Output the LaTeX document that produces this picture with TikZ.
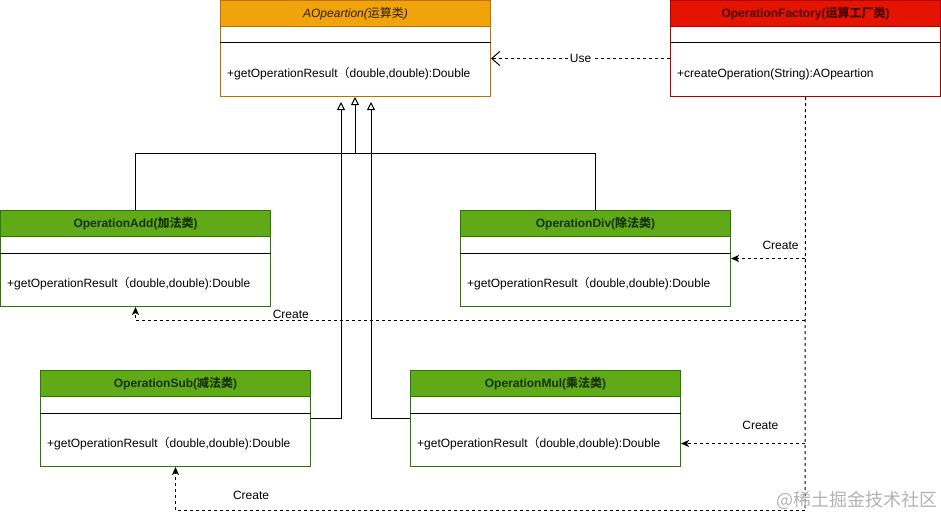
\documentclass[tikz,border=0pt]{standalone}
\usepackage{fontspec}
\setmainfont{Liberation Sans}
\newfontfamily\cjk{Noto Sans CJK SC}
\usetikzlibrary{arrows.meta, calc, positioning}

\definecolor{absFill}{HTML}{F0A30A}
\definecolor{absLine}{HTML}{BD7000}
\definecolor{absText}{HTML}{2E1F00}
\definecolor{facFill}{HTML}{E51400}
\definecolor{facLine}{HTML}{B20000}
\definecolor{facText}{HTML}{4A0000}
\definecolor{subFill}{HTML}{60A917}
\definecolor{subLine}{HTML}{2D7600}
\definecolor{subText}{HTML}{17330A}

\tikzset{
  classbox/.style={draw=#1, line width=1pt, minimum width=270pt, minimum height=96pt,
    anchor=north west, inner sep=0pt},
  classhead/.style={line width=1pt, minimum width=270pt, minimum height=26pt,
    anchor=north west, inner sep=0pt},
  method/.style={anchor=west, inner sep=0pt},
  line/.style={line width=1pt},
  inherit/.style={line width=1pt, -{Triangle[open, length=8pt, width=8pt]}},
  dep/.style={line width=1pt, dash pattern=on 3pt off 3pt},
  use/.style={dep, -{Straight Barb[length=8pt, width=14pt]}},
  create/.style={dep, -{Stealth[length=8pt, width=7pt, inset=2pt]}},
  lbl/.style={fill=white, inner sep=1pt}
}

% class box: name, position, fill, border, text colour, header, method
\newcommand{\umlclass}[8]{
  \node[classbox=#4] (#1) at #2 {};
  \node[classhead, draw=#4, fill=#3, text=#5, font={\fontsize{12}{14}\selectfont#8}] (#1h) at (#1.north west) {#6};
  \draw[line] ([yshift=-43pt]#1.north west) -- ([yshift=-43pt]#1.north east);
  \node[method] (#1m) at ([xshift=7pt, yshift=-74pt]#1.north west) {#7};
}

\begin{document}
\begin{tikzpicture}[x=1pt, y=-1pt, every node/.style={font=\fontsize{12}{14}\selectfont}]
  \useasboundingbox (0,0) rectangle (941,519);

  \umlclass{aop}{(220,0)}{absFill}{absLine}{absText}{AOpeartion({\cjk 运算类})}{+getOperationResult{\cjk （}double,double):Double}{\itshape}
  \umlclass{fac}{(670,0)}{facFill}{facLine}{facText}{OperationFactory({\cjk\bfseries 运算工厂类})}{+createOperation(String):AOpeartion}{\bfseries}
  \umlclass{add}{(0,210)}{subFill}{subLine}{subText}{OperationAdd({\cjk\bfseries 加法类})}{+getOperationResult{\cjk （}double,double):Double}{\bfseries}
  \umlclass{div}{(460,210)}{subFill}{subLine}{subText}{OperationDiv({\cjk\bfseries 除法类})}{+getOperationResult{\cjk （}double,double):Double}{\bfseries}
  \umlclass{sub}{(40,370)}{subFill}{subLine}{subText}{OperationSub({\cjk\bfseries 减法类})}{+getOperationResult{\cjk （}double,double):Double}{\bfseries}
  \umlclass{mul}{(410,370)}{subFill}{subLine}{subText}{OperationMul({\cjk\bfseries 乘法类})}{+getOperationResult{\cjk （}double,double):Double}{\bfseries}

  \coordinate (join) at (355,153);
  \coordinate (subup) at (341,102);
  \coordinate (mulup) at (371,102);
  \draw[line] (add.north) |- (join);
  \draw[line] (div.north) |- (join);
  \draw[inherit] (join) -- (aop.south -| join);
  \draw[inherit] (sub.east) -| (subup);
  \draw[inherit] (mul.west) -| (mulup);

  \draw[use] ([yshift=-10pt]fac.west) -- node[lbl] (useLbl) {Use} ([yshift=-10pt]aop.east);

  \coordinate (trunk) at (805,510);
  \coordinate (addturn) at (805,320);
  \coordinate (mulin) at ([yshift=-25pt]mul.east);
  \draw[dep] (fac.south) -- (trunk);
  \draw[create] (div.east -| trunk) -- node[pos=0.33, above=7pt, inner sep=1pt] (divLbl) {Create} (div.east);
  \draw[create] (addturn) -| node[pos=0.384, above=0pt, inner sep=1pt] (addLbl) {Create} (add.south);
  \draw[create] (mulin -| trunk) -- node[pos=0.36, above=12pt, inner sep=1pt] (mulLbl) {Create} (mulin);
  \draw[create] (trunk) -| node[pos=0.44, above=9pt, inner sep=1pt] (subLbl) {Create} (sub.south);

  \node[text=black!30, font=\cjk\fontsize{18}{20}\selectfont] (mark) at (857,500) {@稀土掘金技术社区};
\end{tikzpicture}
\end{document}
